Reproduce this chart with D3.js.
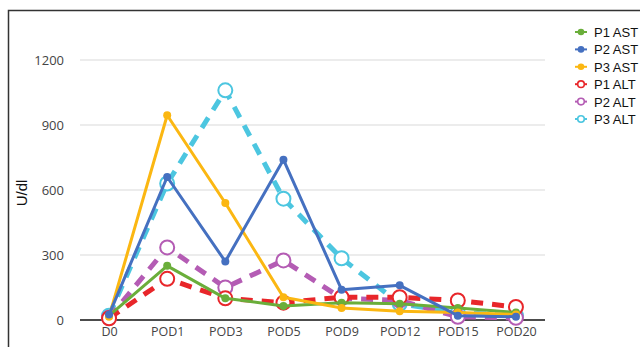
<!DOCTYPE html>
<html><head><meta charset="utf-8">
<script src="https://cdnjs.cloudflare.com/ajax/libs/d3/7.8.5/d3.min.js"></script>
<style>html,body{margin:0;padding:0;background:#fff;overflow:hidden}</style>
</head><body><svg id="c" width="640" height="347"></svg>
<script>
const categories = ["D0","POD1","POD3","POD5","POD9","POD12","POD15","POD20"];
const yTicks = [0,300,600,900,1200];
const p1AST = [20,250,100,65,80,75,55,35];
const p2AST = [25,660,270,740,140,160,20,15];
const p3AST = [15,945,540,105,55,40,35,25];
const p1ALT = [8,190,100,80,105,105,90,60];
const p2ALT = [10,335,150,275,100,90,15,10];
const p3ALT = [20,630,1060,560,285,75,35,20];
const seriesNames = ["P1 AST","P2 AST","P3 AST","P1 ALT","P2 ALT","P3 ALT"];

const series = [
  {name:seriesNames[0], values:p1AST, color:"#6aae3a", dashed:false},
  {name:seriesNames[1], values:p2AST, color:"#4570c0", dashed:false},
  {name:seriesNames[2], values:p3AST, color:"#fbb712", dashed:false},
  {name:seriesNames[3], values:p1ALT, color:"#e8262a", dashed:true},
  {name:seriesNames[4], values:p2ALT, color:"#b45cb4", dashed:true},
  {name:seriesNames[5], values:p3ALT, color:"#4cc6e0", dashed:true}
];

const svg = d3.select("#c");
// frame
svg.append("rect").attr("x",8.5).attr("y",10.5).attr("width",700).attr("height",400)
  .attr("fill","none").attr("stroke","#333").attr("stroke-width",1.5);

const x = d3.scalePoint().domain(categories).range([80,545]).padding(0.5);
const y = d3.scaleLinear().domain([0,1200]).range([320,60]);

// gridlines
svg.append("g").selectAll("line").data(yTicks.filter(d=>d>0)).join("line")
  .attr("x1",80).attr("x2",545).attr("y1",d=>y(d)).attr("y2",d=>y(d))
  .attr("stroke","#d9d9d9").attr("stroke-width",1);

// y axis labels
const yAxis = svg.append("g").attr("transform","translate(80,0)")
  .call(d3.axisLeft(y).tickValues(yTicks).tickFormat(d3.format("d")).tickSize(0).tickPadding(16));
yAxis.select(".domain").remove();
yAxis.selectAll("text").attr("font-family","Open Sans, sans-serif").attr("font-size",13).attr("fill","#444");

// x axis
const xAxis = svg.append("g").attr("transform","translate(0,320)")
  .call(d3.axisBottom(x).tickSize(0).tickPadding(7));
xAxis.select(".domain").attr("stroke","#111").attr("stroke-width",1.5).attr("d","M80,0H545");
xAxis.selectAll("text").attr("font-family","Open Sans, sans-serif").attr("font-size",12.5).attr("fill","#444");

// y title
svg.append("text").attr("transform","translate(27,193) rotate(-90)")
  .attr("text-anchor","middle").attr("font-family","Liberation Sans, Arial, sans-serif")
  .attr("font-size",15).attr("fill","#111").text("U/dl");

const line = d3.line().x((d,i)=>x(categories[i])).y(d=>y(d));

const order = [5,4,3,0,2,1];
order.forEach(k=>{
  const s = series[k];
  const g = svg.append("g");
  g.append("path").datum(s.values).attr("d",line).attr("fill","none")
    .attr("stroke",s.color).attr("stroke-width",s.dashed?5:3)
    .attr("stroke-dasharray",s.dashed?"12,9":null).attr("stroke-linejoin","round");
  g.selectAll("circle").data(s.values).join("circle")
    .attr("cx",(d,i)=>x(categories[i])).attr("cy",d=>y(d))
    .attr("r",s.dashed?7:4)
    .attr("fill",s.dashed?"#fff":s.color)
    .attr("stroke",s.color).attr("stroke-width",s.dashed?2:0);
});

// legend
const lg = svg.append("g");
series.forEach((s,i)=>{
  const yy = 32 + i*17.4;
  lg.append("line").attr("x1",575).attr("x2",587).attr("y1",yy).attr("y2",yy)
    .attr("stroke",s.color).attr("stroke-width",2);
  lg.append("circle").attr("cx",581).attr("cy",yy).attr("r",3.3)
    .attr("fill",s.dashed?"#fff":s.color).attr("stroke",s.color).attr("stroke-width",s.dashed?1.6:0);
  lg.append("text").attr("x",594).attr("y",yy+5).attr("font-family","Liberation Sans, Arial, sans-serif")
    .attr("font-size",13).attr("fill","#111").text(s.name);
});
</script></body></html>
